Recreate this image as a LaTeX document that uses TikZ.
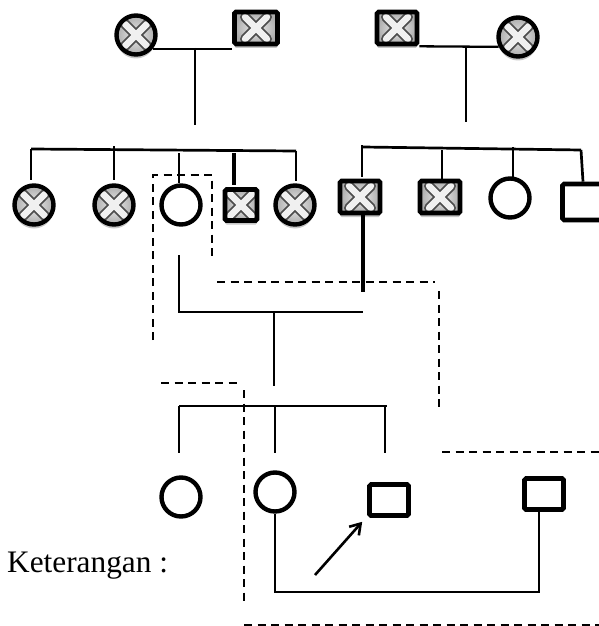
\documentclass[tikz,border=0pt]{standalone}
\usepackage{fontspec}
\setmainfont{Liberation Serif}
\usetikzlibrary{shadows,arrows.meta}

\begin{document}
\begin{tikzpicture}[x=1pt,y=-1pt,
  link/.style={line width=2.3pt},
  sibline/.style={line width=2.7pt},
  heavy/.style={line width=3.8pt},
  dashline/.style={line width=2pt, dash pattern=on 8pt off 5.5pt},
  female/.style={circle, draw, line width=4.4pt, minimum size=39pt, inner sep=0pt},
  male/.style={rectangle, draw, line width=4.6pt, rounded corners=1.5pt, inner sep=0pt},
  affected/.style={shading=radial, inner color=gray!15, outer color=gray!65,
    drop shadow={shadow xshift=0pt, shadow yshift=-4pt, opacity=0.22, fill=black},
    path picture={
      \path (path picture bounding box.center) coordinate (xc);
      \draw[line width=10pt, black!70, line cap=round]
        ([shift={(-11,-11)}]xc) -- ([shift={(11,11)}]xc)
        ([shift={(-11,11)}]xc) -- ([shift={(11,-11)}]xc);
      \draw[line width=6.4pt, white!88!gray, line cap=round]
        ([shift={(-11,-11)}]xc) -- ([shift={(11,11)}]xc)
        ([shift={(-11,11)}]xc) -- ([shift={(11,-11)}]xc);
    }},
  note/.style={font=\fontsize{31.3}{36}\selectfont, anchor=base west, inner sep=0pt}
]
\useasboundingbox (0,0) rectangle (599,626);

% ---- generation I ----
\node[female, affected] (i1) at (136,35) {};
\node[male, affected, minimum width=43pt, minimum height=32pt] (i2) at (256,28) {};
\node[male, affected, minimum width=40pt, minimum height=32pt] (i3) at (397,28) {};
\node[female, affected] (i4) at (518,37) {};

\draw[link] (i1.-40) -- (i1.-40 -| i2.west);
\draw[link] (i3.south east) -- (i4.207);
\coordinate (c1top) at (195,48);
\coordinate (c1bot) at (195,125);
\coordinate (c2top) at (466,47);
\coordinate (c2bot) at (466,122);
\draw[link] (c1top) -- (c1bot);
\draw[link] (c2top) -- (c2bot);

% ---- generation II ----
\node[female, affected] (ii1) at (34,205) {};
\node[female, affected] (ii2) at (114,205) {};
\node[female] (ii3) at (181,205) {};
\node[male, affected, minimum width=32pt, minimum height=31pt] (ii4) at (241,205) {};
\node[female, affected] (ii5) at (295,205) {};
\node[male, affected, minimum width=40pt, minimum height=32pt] (ii6) at (360,197) {};
\node[male, affected, minimum width=40pt, minimum height=32pt] (ii7) at (440,197) {};
\node[female] (ii8) at (510,198) {};
\node[male, minimum width=41pt, minimum height=36pt] (ii9) at (583,202) {};

% left sibship
\coordinate (sl1) at (31,149);
\coordinate (sl2) at (296,151);
\draw[sibline] (sl1) -- (sl2);
\draw[sibline] (sl1) -- (31,180);
\draw[sibline] (114,146) -- (114,180);
\draw[sibline] (179,153) -- (179,183);
\draw[heavy] (234,153) -- (234,185);
\draw[sibline] (296,151) -- (296,181);

% right sibship
\coordinate (sr1) at (363,147);
\coordinate (sr2) at (581,150);
\draw[sibline] (sr1) -- (sr2);
\draw[sibline] (362,145) -- (362,177);
\draw[sibline] (442,150) -- (442,180);
\draw[sibline] (513,147) -- (513,177);
\draw[sibline] (sr2) -- (ii9.north);

% ---- marriage ii3 x ii6 ----
\coordinate (ma) at (179,255);
\coordinate (mb) at (179,312);
\coordinate (mc) at (363,312);
\coordinate (md) at (274,312);
\coordinate (me) at (274,386);
\draw[link] (ma) -- (mb) -- (mc);
\draw[heavy] (ii6.south -| mc) -- (363,292);
\draw[link] (md) -- (me);

% ---- generation III ----
\node[female] (iii1) at (181,497) {};
\node[female] (iii2) at (275,492) {};
\node[male, minimum width=39pt, minimum height=31pt] (iii3) at (389,500) {};
\node[male, minimum width=39pt, minimum height=31pt] (iii4) at (544,494) {};

\coordinate (s3a) at (179,406);
\coordinate (s3b) at (387,406);
\draw[link] (s3a) -- (s3b);
\draw[link] (s3a) -- (179,453);
\draw[link] (275,406) -- (275,453);
\draw[link] (385,406) -- (385,453);

% marriage iii2 x iii4
\draw[link] (iii2.south) -- (275,592) -- (539,592) -- (iii4.south -| 539,0);

% proband arrow
\coordinate (arr) at (315,575);
\draw[line width=2.6pt, -{Straight Barb[length=10pt,width=13pt]}] (arr) -- ([shift={(-5,4)}]iii3.south west);

% ---- dashed outlines ----
\draw[dashline] (153,340) -- (153,175) -- (212,175) -- (212,257);
\draw[dashline] (217,282) -- (435,282);
\draw[dashline] (439,291) -- (439,410);
\draw[dashline] (161,383) -- (238,383);
\draw[dashline] (244,390) -- (244,605);
\draw[dashline] (442,452) -- (599,452);
\draw[dashline] (244,625) -- (599,625);

% ---- caption ----
\node[note] (cap) at (7,572) {Keterangan :};
\end{tikzpicture}
\end{document}
